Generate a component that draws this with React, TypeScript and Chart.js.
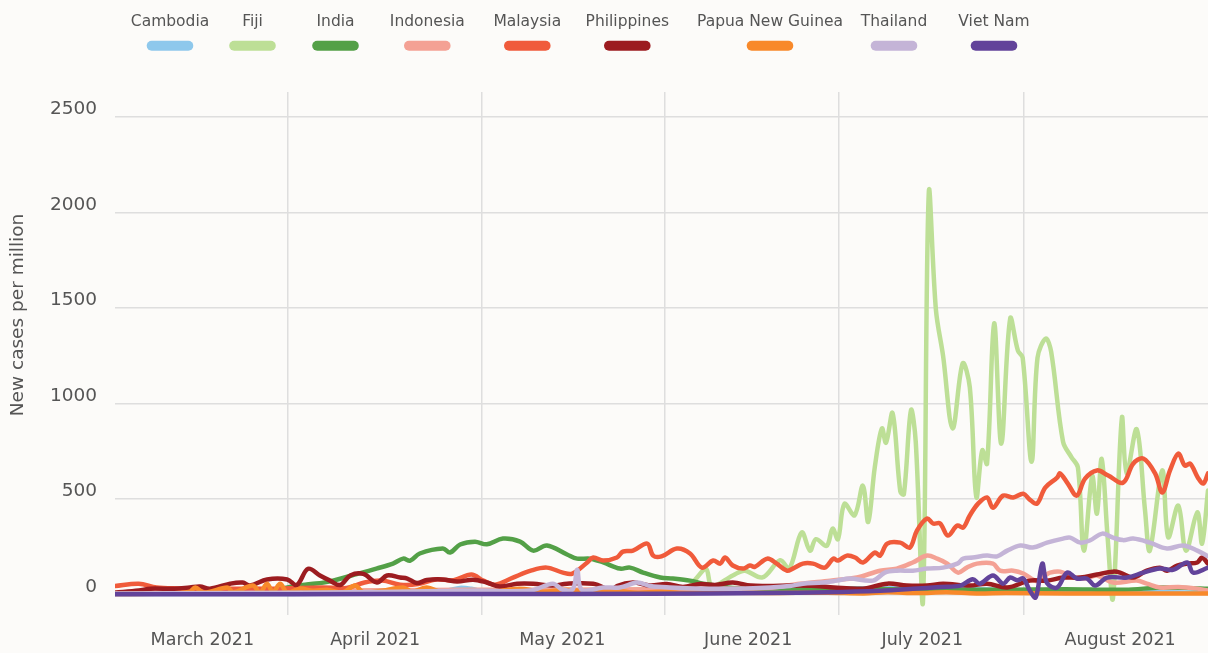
import React, { useEffect, useRef } from "react";
import { Chart, registerables } from "chart.js";

Chart.register(...registerables);

// ---- Data (x = days since 1 March 2021, y = new cases per million) ----
const countries = ["Cambodia", "Fiji", "India", "Indonesia", "Malaysia", "Philippines", "Papua New Guinea", "Thailand", "Viet Nam"];
const colors = ["#8ec8ec", "#bddf96", "#53a047", "#f4a194", "#f05b3b", "#9c1c20", "#f8892a", "#c4b4d7", "#62439a"];

const cambodia: number[][] = [[0,3],[20,3],[40,5],[55,15],[58,35],[60,30],[63,10],[70,8],[80,10],[90,8],[100,12],[110,20],[120,30],[130,35],[140,30],[150,25],[160,20],[170,15],[184,10]];

const fiji: number[][] = [[0,5],[20,5],[40,8],[60,10],[70,15],[80,15],[88,25],[93,40],[96,30],[98,90],[99.5,135],[100.5,45],[104,100],[106,125],[109,90],[112,180],[113.5,135],[115.6,325],[117,230],[118,290],[119.8,255],[120.8,345],[121.7,290],[122.8,475],[124.5,415],[125.9,570],[126.8,380],[127.9,665],[129.1,870],[129.8,795],[130.9,950],[132.2,540],[132.8,525],[134,965],[134.8,800],[136,-47],[137,2105],[138.2,1490],[139.4,1250],[141,870],[142.7,1210],[143.9,1085],[145,510],[146,755],[146.8,685],[148,1420],[149.2,790],[150.7,1445],[152,1277],[152.8,1240],[154.3,695],[155.3,1240],[156.7,1340],[157.6,1270],[159.6,800],[161,720],[162.1,665],[163.1,230],[164.5,620],[165.3,424],[166.1,710],[167.1,300],[168,-20],[169.5,925],[170.3,634],[172,865],[173.4,440],[174.2,230],[176.3,650],[177.3,300],[179,466],[180.3,230],[182.2,430],[183,267],[184,545]];

const india: number[][] = [[0,8],[10,10],[20,15],[27,25],[30.6,47],[33,55],[36,68],[41,110],[44,136],[46.8,162],[48.5,188],[49.7,178],[51.3,215],[55.2,241],[56.4,220],[58.1,262],[60.6,277],[62.6,263],[65.3,293],[68.2,277],[70.4,230],[72.7,257],[76.1,210],[77.8,188],[80,188],[82.2,168],[85,136],[86.7,141],[88.9,115],[91.8,89],[93.9,84],[96.8,73],[99,57],[101.3,47],[104,35],[110,32],[120,30],[130,28],[140,25],[150,25],[160,28],[170,25],[176,37],[180,35],[184,30]];

const indonesia: number[][] = [[0,10],[15,15],[30,20],[45,22],[60,25],[75,25],[90,28],[100,30],[110,35],[115.3,57],[120.4,73],[124.9,89],[128.8,125],[131.6,136],[134.3,168],[136.7,204],[138.4,188],[140.1,162],[141.9,115],[143.4,141],[145.1,162],[147.8,162],[149,125],[151.2,125],[152.9,110],[155.2,70],[156.6,100],[157.4,115],[159.1,120],[161.3,89],[163.6,85],[165.3,100],[168,63],[172,73],[173.7,57],[175.9,37],[179,40],[182.2,31],[184,21]];

const malaysia: number[][] = [[0,45],[4,57],[7,37],[11,32],[15,28],[19,30],[23,32],[27,30],[31,35],[35,37],[39,35],[42,63],[45,73],[48,52],[51,55],[54,79],[57,75],[60,105],[62,73],[64,52],[67,89],[70,125],[72.7,141],[75.4,115],[77,110],[79.5,168],[80.5,194],[82.2,178],[84.5,194],[85.5,225],[87.2,230],[89.6,267],[90.6,204],[92,200],[94.6,241],[96.8,215],[98.8,141],[100.7,178],[101.9,162],[102.7,194],[104,152],[105.7,136],[106.9,152],[107.7,145],[109.8,188],[111.4,162],[113.1,125],[114.1,136],[115.8,162],[117.5,162],[119.5,141],[120.9,188],[121.7,178],[123.2,204],[124.6,194],[125.9,168],[127.9,220],[128.8,204],[130,267],[132.2,272],[133.8,246],[135,335],[136.7,398],[137.7,372],[138.9,372],[140.2,309],[141.8,361],[142.8,351],[143.9,414],[145.3,476],[146.8,508],[147.8,455],[149.5,518],[151.2,508],[152.9,528],[154,497],[155.2,476],[156.6,560],[158.6,612],[159.1,634],[160.4,581],[161.9,518],[163.3,607],[165.3,650],[167.2,623],[169.7,586],[171.4,685],[173.1,712],[175.1,634],[176.3,534],[177.6,650],[179,738],[180.1,675],[181,685],[182.3,612],[183.2,581],[184,634]];

const philippines: number[][] = [[0,10],[4,21],[6,31],[10,30],[12.6,37],[14.3,42],[16,31],[19.4,57],[21.5,63],[22.7,47],[25.6,79],[29,79],[30.6,50],[32.5,135],[34.5,100],[36.2,73],[37.9,50],[39.6,100],[41.8,108],[44.1,63],[45.8,100],[48,89],[49.2,84],[50.8,60],[52.5,76],[55.2,79],[57.6,68],[60.3,78],[62.6,63],[64.8,42],[67.7,57],[70.4,57],[73.7,47],[76.1,57],[80.5,57],[82.2,37],[83.2,12],[84.5,45],[87.2,63],[90.1,47],[92.9,55],[95.6,40],[98.5,55],[101,50],[104,63],[107,47],[110,45],[114,47],[118,45],[121,37],[125.9,31],[130,57],[133.3,47],[136.7,47],[139.4,57],[143.9,47],[146.8,57],[150.2,37],[154,73],[156.9,73],[159.6,89],[162.5,89],[165.3,105],[168,120],[169.2,115],[171.4,89],[173.7,125],[175.9,141],[177.1,125],[178.8,152],[180.5,162],[182.2,168],[183,194],[184,162]];

const papuaNewGuinea: number[][] = [[0,3],[8,5],[12.6,15],[13.5,37],[15,10],[18.9,37],[19.9,12],[23.2,47],[24.4,10],[25.6,57],[26.6,12],[27.8,57],[29,10],[31.1,31],[33.3,20],[35.7,25],[38.4,12],[40.4,47],[41.8,12],[45,20],[48.5,37],[50,15],[52.5,37],[55,12],[60,20],[63,12],[68,30],[72,15],[76,25],[80,15],[84,20],[88,10],[92,15],[96,8],[100,10],[110,8],[120,10],[126,6],[130,12],[135,8],[140,12],[145,6],[150,8],[160,6],[170,5],[184,5]];

const thailand: number[][] = [[0,5],[20,8],[40,12],[55,18],[60,21],[70,21],[73.7,57],[75.4,25],[77.1,30],[77.8,130],[78.6,25],[82.2,37],[85,37],[87.9,63],[90.1,45],[93.4,37],[99,31],[104.7,31],[110.3,37],[113.6,45],[115.8,57],[119.2,63],[121.5,73],[123.7,84],[127.6,73],[129.6,115],[131.6,125],[134.3,125],[136.7,136],[139.4,141],[141.8,162],[142.8,188],[144.4,194],[146.8,204],[148.5,200],[150.2,230],[152.4,257],[154.5,246],[156.9,272],[159.6,293],[160.8,298],[162.5,272],[164.1,283],[166.2,319],[168,298],[169.7,285],[171.4,293],[174.2,272],[177.1,241],[179.8,257],[182.2,230],[184,200]];

const vietNam: number[][] = [[0,2],[30,2],[60,3],[90,4],[110,8],[120,12],[128.8,20],[134.3,30],[138.9,40],[142.3,47],[144.4,80],[145.6,57],[147.8,100],[149.5,57],[150.7,89],[151.9,75],[152.9,84],[154,21],[155,-15],[156.1,162],[156.9,60],[158.6,37],[160.3,115],[161.9,84],[163.6,84],[165,47],[167,89],[170.4,89],[173.1,115],[175.9,136],[178.1,130],[180.5,168],[181.5,115],[184,141]];

const seriesData = [cambodia, fiji, india, indonesia, malaysia, philippines, papuaNewGuinea, thailand, vietNam];

// ---- Axis ticks ----
const gridDays = [29.0, 61.7, 92.5, 121.8, 152.9];
const monthLabelDays = [14.7, 43.8, 75.3, 106.6, 135.9, 169.2];
const monthLabels = ["March 2021", "April 2021", "May 2021", "June 2021", "July 2021", "August 2021"];
const yTicks = [0, 500, 1000, 1500, 2000, 2500];
const yTitle = "New cases per million";

// ---- Layout constants ----
const legendCenters = [170, 252.5, 335.5, 427.3, 527.3, 627.3, 770, 894, 994];
const FONT = '"DejaVu Sans", sans-serif';
const TEXT_COLOR = "#555555";
const GRID_COLOR = "#dedede";

const legendPlugin = {
  id: "customLegend",
  afterDraw(chart: any) {
    const ctx = chart.ctx;
    ctx.save();
    ctx.font = `normal 15.5px ${FONT}`;
    ctx.textAlign = "center";
    ctx.textBaseline = "alphabetic";
    countries.forEach((name, i) => {
      const cx = legendCenters[i];
      ctx.fillStyle = TEXT_COLOR;
      ctx.fillText(name, cx, 26);
      ctx.strokeStyle = colors[i];
      ctx.lineWidth = 10;
      ctx.lineCap = "round";
      ctx.beginPath();
      ctx.moveTo(cx - 18.3, 45.7);
      ctx.lineTo(cx + 18.3, 45.7);
      ctx.stroke();
    });
    // y-axis title
    ctx.translate(18.5, 315);
    ctx.rotate(-Math.PI / 2);
    ctx.font = `normal 18.5px ${FONT}`;
    ctx.fillStyle = TEXT_COLOR;
    ctx.textBaseline = "middle";
    ctx.fillText(yTitle, 0, 0);
    ctx.restore();
  },
};

export default function App() {
  const canvasRef = useRef<HTMLCanvasElement | null>(null);

  useEffect(() => {
    if (!canvasRef.current) return;
    const chart = new Chart(canvasRef.current, {
      type: "line",
      data: {
        datasets: seriesData.map((s, i) => ({
          label: countries[i],
          data: s.map(([x, y]) => ({ x, y })),
          borderColor: colors[i],
          backgroundColor: colors[i],
          borderWidth: 4.5,
          pointRadius: 0,
          pointHoverRadius: 0,
          tension: 0.35,
          fill: false,
          borderJoinStyle: "round" as const,
          borderCapStyle: "round" as const,
          order: countries.length - i,
        })),
      },
      options: {
        animation: false,
        responsive: true,
        maintainAspectRatio: false,
        layout: { padding: { top: 92, left: 0, right: 0, bottom: 0 } },
        plugins: { legend: { display: false }, tooltip: { enabled: false } },
        scales: {
          x: {
            type: "linear",
            min: 0,
            max: 184,
            border: { display: false },
            afterBuildTicks: (scale: any) => {
              const all = [...gridDays, ...monthLabelDays].sort((a, b) => a - b);
              scale.ticks = all.map((v) => ({ value: v }));
            },
            afterFit: (scale: any) => {
              scale.height = 38;
            },
            grid: {
              drawTicks: false,
              lineWidth: 1.5,
              color: (ctx: any) => (ctx.tick && gridDays.includes(ctx.tick.value) ? GRID_COLOR : "rgba(0,0,0,0)"),
            },
            ticks: {
              autoSkip: false,
              maxRotation: 0,
              padding: 15,
              color: TEXT_COLOR,
              font: { family: FONT, size: 17.5 },
              callback: (v: any) => {
                const idx = monthLabelDays.indexOf(Number(v));
                return idx >= 0 ? monthLabels[idx] : "";
              },
            },
          },
          y: {
            type: "linear",
            min: -107,
            max: 2631,
            border: { display: false },
            afterBuildTicks: (scale: any) => {
              scale.ticks = yTicks.map((v) => ({ value: v }));
            },
            afterFit: (scale: any) => {
              scale.width = 115;
            },
            grid: { drawTicks: false, lineWidth: 1.5, color: GRID_COLOR },
            ticks: {
              padding: 18,
              labelOffset: -7.5,
              color: TEXT_COLOR,
              font: { family: FONT, size: 18.5 },
              callback: (v: any) => String(v),
            },
          },
        },
      },
      plugins: [legendPlugin],
    });
    return () => chart.destroy();
  }, []);

  return (
    <div style={{ position: "absolute", left: 0, top: 0, width: 1208, height: 653, background: "#fcfbf9" }}>
      <canvas ref={canvasRef} />
    </div>
  );
}
